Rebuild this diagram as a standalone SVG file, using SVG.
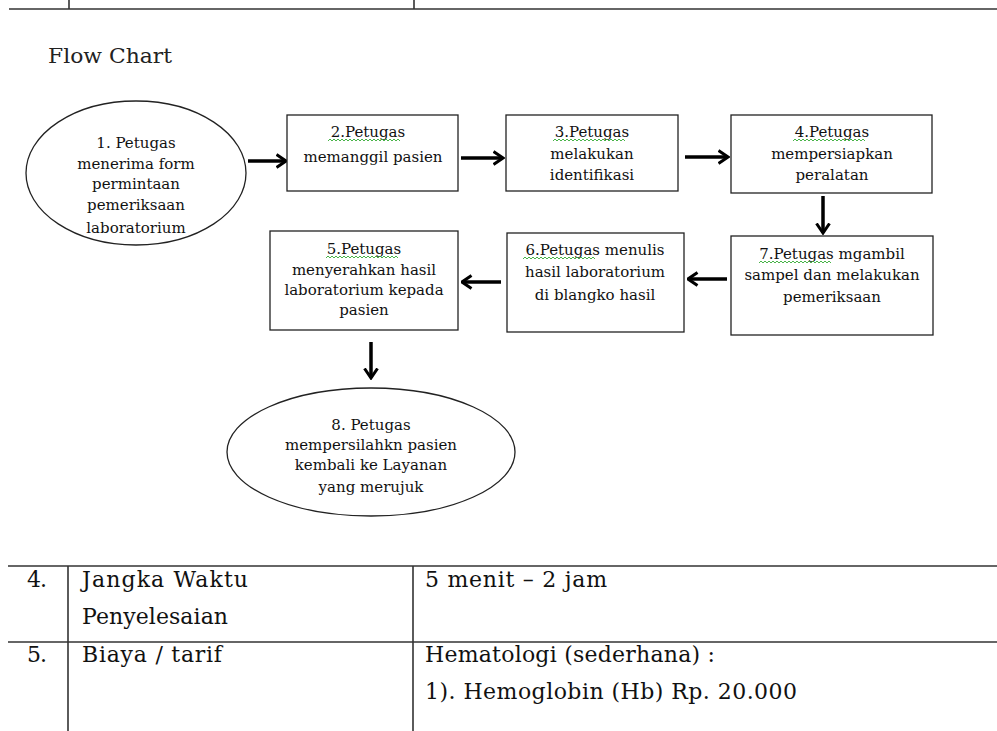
<svg xmlns="http://www.w3.org/2000/svg" width="997" height="731" viewBox="0 0 997 731">
<style>
.n{fill:#fff;stroke:#222;stroke-width:1.3}
.t{font-family:"DejaVu Serif","Liberation Serif",serif;font-size:15px;fill:#111;text-anchor:middle}
.c{stroke:#000;stroke-width:3.5;fill:none}
.g{fill:none;stroke:#3a3;stroke-width:0.9}
.tb{font-family:"DejaVu Serif","Liberation Serif",serif;font-size:22px;fill:#111}
.ln{stroke:#333;stroke-width:1.6;fill:none}
</style>
<defs>
<marker id="ah" viewBox="0 0 12 16" refX="10.5" refY="8" markerWidth="12" markerHeight="16" markerUnits="userSpaceOnUse" orient="auto">
<path d="M1,1.5 L10.5,8 L1,14.5" fill="none" stroke="#000" stroke-width="3"/>
</marker>
<path id="wv" class="g" d="M0,0 l2,-2 l2,2 l2,-2 l2,2 l2,-2 l2,2 l2,-2 l2,2 l2,-2 l2,2 l2,-2 l2,2 l2,-2 l2,2 l2,-2 l2,2 l2,-2 l2,2 l2,-2 l2,2 l2,-2 l2,2 l2,-2 l2,2 l2,-2 l2,2 l2,-2 l2,2 l2,-2 l2,2 l2,-2 l2,2 l2,-2 l2,2 l2,-2 l2,2"/>
</defs>
<rect width="997" height="731" fill="#fff"/>
<g id="top-rule">
<line class="ln" x1="9" y1="9" x2="997" y2="9"/>
<line class="ln" x1="69" y1="0" x2="69" y2="9"/>
<line class="ln" x1="414" y1="0" x2="414" y2="9"/>
</g>
<text x="48" y="63" textLength="124" lengthAdjust="spacingAndGlyphs" style="font-family:'DejaVu Serif','Liberation Serif',serif;font-size:21px;fill:#222">Flow Chart</text>
<g id="connectors">
<line class="c" x1="248" y1="161" x2="286" y2="161" marker-end="url(#ah)"/>
<line class="c" x1="461" y1="158" x2="503" y2="158" marker-end="url(#ah)"/>
<line class="c" x1="685" y1="157" x2="728" y2="157" marker-end="url(#ah)"/>
<line class="c" x1="823" y1="196" x2="823" y2="233" marker-end="url(#ah)"/>
<line class="c" x1="727" y1="279" x2="688" y2="279" marker-end="url(#ah)"/>
<line class="c" x1="501" y1="282" x2="462" y2="282" marker-end="url(#ah)"/>
<line class="c" x1="371" y1="342" x2="371" y2="378" marker-end="url(#ah)"/>
</g>
<g id="node1">
<ellipse class="n" cx="136" cy="173" rx="110" ry="72"/>
<text class="t" x="136" y="148">1. Petugas</text>
<text class="t" x="136" y="169">menerima form</text>
<text class="t" x="136" y="189">permintaan</text>
<text class="t" x="136" y="210">pemeriksaan</text>
<text class="t" x="136" y="233">laboratorium</text>
</g>
<g id="node2">
<rect class="n" x="287" y="115" width="171" height="76"/>
<text class="t" x="368" y="137">2.Petugas</text>
<use href="#wv" x="328" y="141"/>
<text class="t" x="373" y="162">memanggil pasien</text>
</g>
<g id="node3">
<rect class="n" x="506" y="115" width="172" height="76"/>
<text class="t" x="592" y="137">3.Petugas</text>
<use href="#wv" x="553" y="141"/>
<text class="t" x="592" y="159">melakukan</text>
<text class="t" x="592" y="180">identifikasi</text>
</g>
<g id="node4">
<rect class="n" x="731" y="115" width="201" height="78"/>
<text class="t" x="832" y="137">4.Petugas</text>
<use href="#wv" x="793" y="141"/>
<text class="t" x="832" y="159">mempersiapkan</text>
<text class="t" x="832" y="180">peralatan</text>
</g>
<g id="node7">
<rect class="n" x="731" y="236" width="202" height="99"/>
<text class="t" x="832" y="259">7.Petugas mgambil</text>
<use href="#wv" x="759" y="263"/>
<text class="t" x="832" y="280">sampel dan melakukan</text>
<text class="t" x="832" y="302">pemeriksaan</text>
</g>
<g id="node6">
<rect class="n" x="507" y="233" width="177" height="99"/>
<text class="t" x="595" y="255">6.Petugas menulis</text>
<use href="#wv" x="523" y="259"/>
<text class="t" x="595" y="277">hasil laboratorium</text>
<text class="t" x="595" y="300">di blangko hasil</text>
</g>
<g id="node5">
<rect class="n" x="270" y="231" width="188" height="99"/>
<text class="t" x="364" y="254">5.Petugas</text>
<use href="#wv" x="326" y="258"/>
<text class="t" x="364" y="275">menyerahkan hasil</text>
<text class="t" x="364" y="295">laboratorium kepada</text>
<text class="t" x="364" y="315">pasien</text>
</g>
<g id="node8">
<ellipse class="n" cx="371" cy="452" rx="144" ry="64"/>
<text class="t" x="371" y="430">8. Petugas</text>
<text class="t" x="371" y="450">mempersilahkn pasien</text>
<text class="t" x="371" y="470">kembali ke Layanan</text>
<text class="t" x="371" y="492">yang merujuk</text>
</g>
<g id="table">
<line class="ln" x1="8" y1="566" x2="997" y2="566"/>
<line class="ln" x1="8" y1="642" x2="997" y2="642"/>
<line class="ln" x1="68" y1="566" x2="68" y2="731"/>
<line class="ln" x1="413" y1="566" x2="413" y2="731"/>
<text class="tb" x="27" y="587" textLength="20">4.</text>
<text class="tb" x="82" y="587" textLength="166">Jangka Waktu</text>
<text class="tb" x="82" y="624" textLength="146">Penyelesaian</text>
<text class="tb" x="425" y="587" textLength="182">5 menit – 2 jam</text>
<text class="tb" x="27" y="662" textLength="20">5.</text>
<text class="tb" x="82" y="662" textLength="140">Biaya / tarif</text>
<text class="tb" x="425" y="662" textLength="290">Hematologi (sederhana)  :</text>
<text class="tb" x="425" y="699" textLength="372">1). Hemoglobin (Hb) Rp. 20.000</text>
</g>
</svg>
